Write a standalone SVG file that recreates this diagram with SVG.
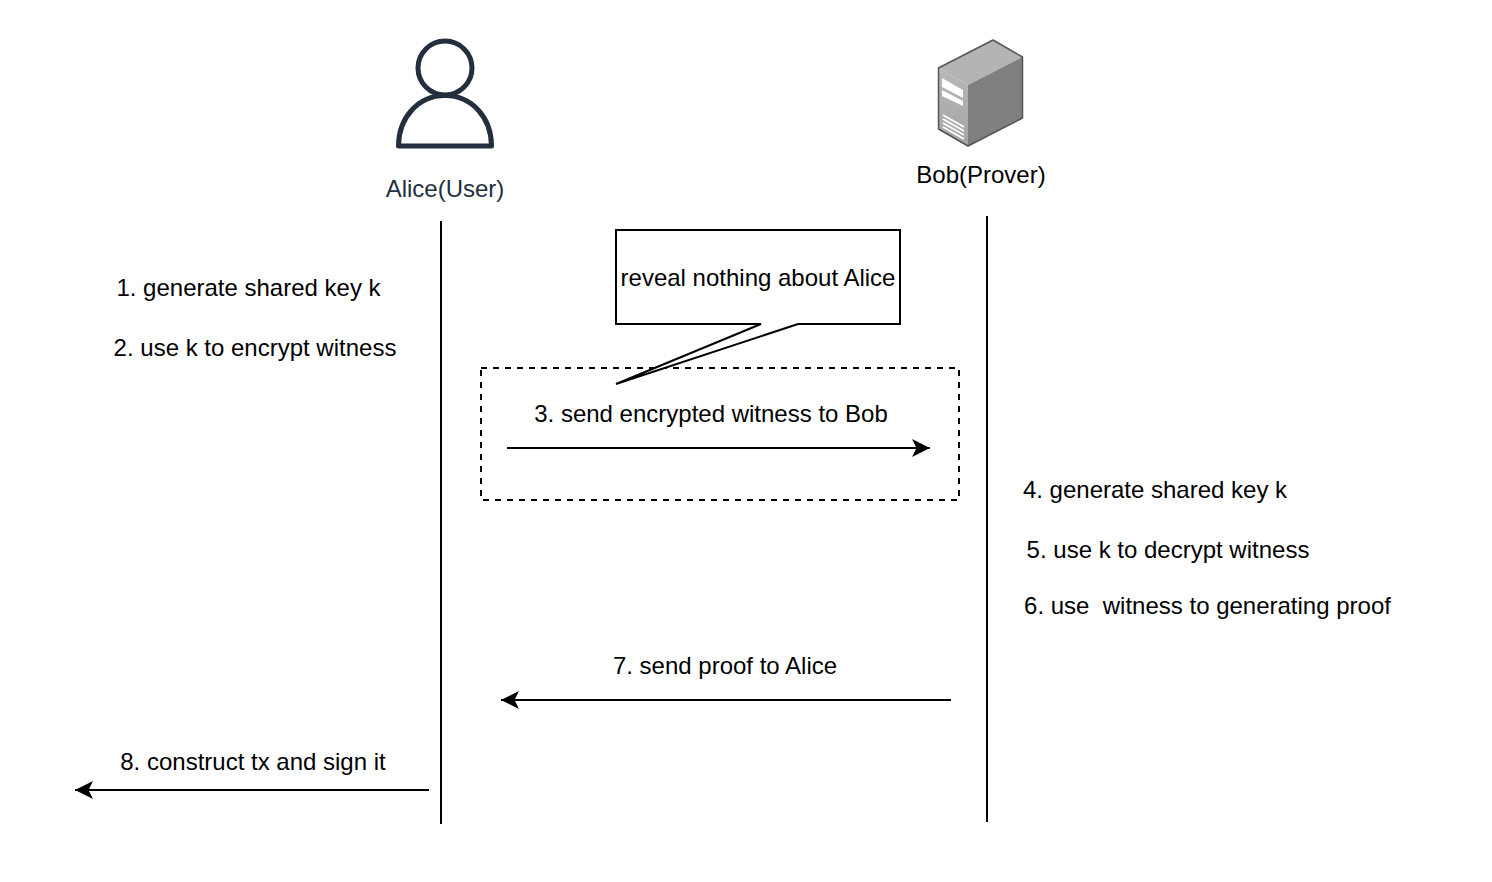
<svg xmlns="http://www.w3.org/2000/svg" width="1492" height="882" viewBox="0 0 1492 882">
<style>
text{font-family:"Liberation Sans",Arial,sans-serif;font-size:24px;fill:#000;text-anchor:middle}
.l{fill:none;stroke:#000;stroke-width:2}
</style>
<defs>
<marker id="a" markerUnits="userSpaceOnUse" markerWidth="20" markerHeight="20" refX="18" refY="9" orient="auto"><path d="M0 0 L18 9 L0 18 L4.500 9Z" fill="#000"/></marker>
<linearGradient id="front" x1="0" y1="0" x2="0" y2="1"><stop offset="0" stop-color="#b8b8b8"/><stop offset="1" stop-color="#a4a4a4"/></linearGradient>
</defs>
<rect width="1492" height="882" fill="#fff"/>
<g id="alice">
<circle cx="445" cy="68" r="27" fill="none" stroke="#232f3e" stroke-width="5"/>
<path d="M398.500 146 C398.500 118 418 95.500 445 95.500 C472 95.500 491.500 118 491.500 146 Z" fill="none" stroke="#232f3e" stroke-width="5" stroke-linejoin="round"/>
<text x="445" y="197" style="fill:#232f3e">Alice(User)</text>
</g>
<g id="bob">
<path d="M938.500 68 L993 40 L1022.500 57 L968 85Z" fill="#b4b4b4"/>
<path d="M938.500 68 L968 85 L968 146 L938.500 129Z" fill="url(#front)"/>
<path d="M968 85 L968 146 L1022.500 118 L1022.500 57Z" fill="#7f7f7f"/>
<path d="M938.500 68 L993 40 L1022.500 57 L1022.500 118 L968 146 L938.500 129Z" fill="none" stroke="#555" stroke-width="1.500" stroke-linejoin="round"/>
<path d="M942 78 L963 90 L963 98 L942 87Z M942 90 L963 101 L963 106 L942 96Z" fill="#fff"/>
<path d="M943 115 L964 127 M943 119 L964 131 M943 123 L964 135 M943 127 L964 139" stroke="#fff" stroke-width="2" fill="none"/>
<text x="981" y="183">Bob(Prover)</text>
</g>
<g id="connectors">
<path class="l" d="M441 221 V824"/>
<path class="l" d="M987 216 V822"/>
<path class="l" d="M507 448 H930" marker-end="url(#a)"/>
<path class="l" d="M951 700 H501" marker-end="url(#a)"/>
<path class="l" d="M429 790 H75" marker-end="url(#a)"/>
</g>
<g id="secure-channel">
<rect x="481" y="368" width="478" height="132" fill="none" stroke="#000" stroke-width="2" stroke-dasharray="6 6"/>
</g>
<g id="callout">
<path d="M616 230 H900 V324 H798 L616 384 L761 324 H616Z" fill="#fff" stroke="#000" stroke-width="2"/>
<text x="758" y="286">reveal nothing about Alice</text>
</g>
<g id="labels">
<text x="248.500" y="296">1. generate shared key k</text>
<text x="255" y="356">2. use k to encrypt witness</text>
<text x="711" y="422">3. send encrypted witness to Bob</text>
<text x="1155" y="498">4. generate shared key k</text>
<text x="1168" y="558">5. use k to decrypt witness</text>
<text x="1207.500" y="614" xml:space="preserve">6. use  witness to generating proof</text>
<text x="725" y="674">7. send proof to Alice</text>
<text x="253" y="770">8. construct tx and sign it</text>
</g>
</svg>
